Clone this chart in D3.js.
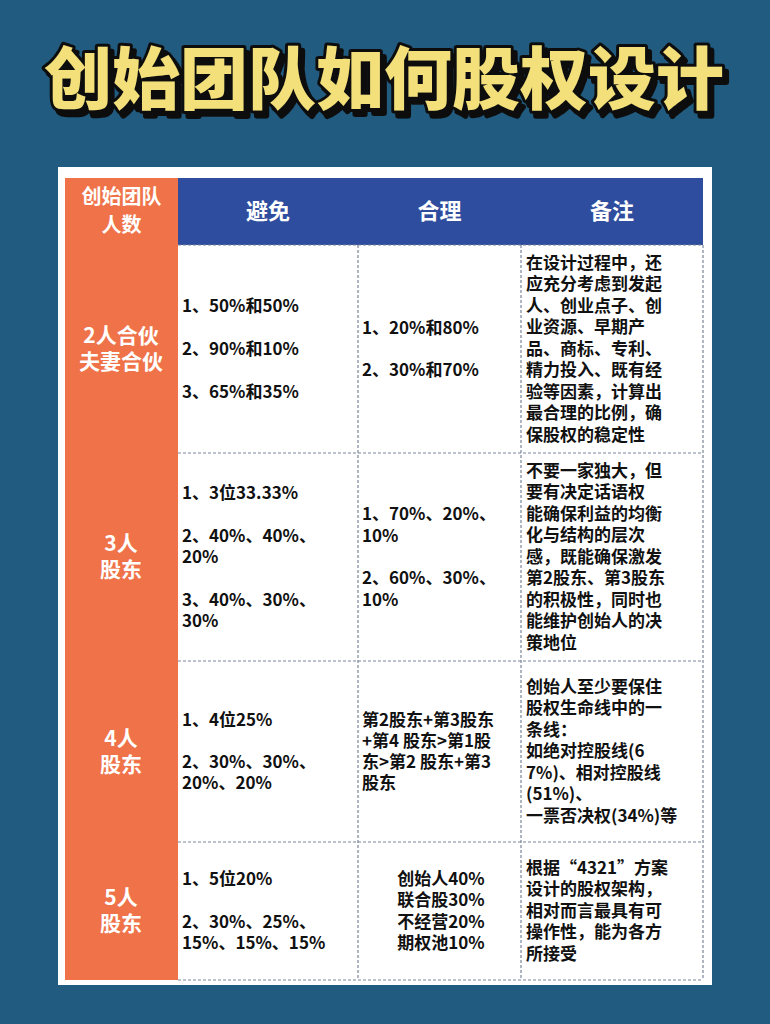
<!DOCTYPE html>
<html><head><meta charset="utf-8">
<script src="https://cdn.jsdelivr.net/npm/d3@7"></script>
<style>body{margin:0;background:#205a7e}svg{display:block}</style></head>
<body><svg id="c" width="770" height="1024"></svg>
<script>
const title = "创始团队如何股权设计";
const headers = ["创始团队\n人数", "避免", "合理", "备注"];
const groups = ["2人合伙\n夫妻合伙", "3人\n股东", "4人\n股东", "5人\n股东"];
const avoid = [
 "1、50%和50%\n\n2、90%和10%\n\n3、65%和35%",
 "1、3位33.33%\n\n2、40%、40%、\n20%\n\n3、40%、30%、\n30%",
 "1、4位25%\n\n2、30%、30%、\n20%、20%",
 "1、5位20%\n\n2、30%、25%、\n15%、15%、15%"];
const reasonable = [
 "1、20%和80%\n\n2、30%和70%",
 "1、70%、20%、\n10%\n\n2、60%、30%、\n10%",
 "第2股东+第3股东\n+第4 股东>第1股\n东>第2 股东+第3\n股东",
 "创始人40%\n联合股30%\n不经营20%\n期权池10%"];
const notes = [
 "在设计过程中，还\n应充分考虑到发起\n人、创业点子、创\n业资源、早期产\n品、商标、专利、\n精力投入、既有经\n验等因素，计算出\n最合理的比例，确\n保股权的稳定性",
 "不要一家独大，但\n要有决定话语权\n能确保利益的均衡\n化与结构的层次\n感，既能确保激发\n第2股东、第3股东\n的积极性，同时也\n能维护创始人的决\n策地位",
 "创始人至少要保住\n股权生命线中的一\n条线：\n如绝对控股线(6\n7%)、相对控股线\n(51%)、\n一票否决权(34%)等",
 "根据“4321”方案\n设计的股权架构，\n相对而言最具有可\n操作性，能为各方\n所接受"];

const svg = d3.select("#c");
const F = "'Noto Sans CJK SC','Noto Sans',sans-serif";
const defs = svg.append("defs");
defs.append("filter").attr("id","sh").attr("x","-10%").attr("y","-30%").attr("width","120%").attr("height","160%")
  .append("feDropShadow").attr("dx",4).attr("dy",5).attr("stdDeviation",0).attr("flood-color","#111").attr("flood-opacity",1);
svg.append("rect").attr("width",770).attr("height",1024).attr("fill","#215b7f");
svg.append("text").attr("font-family",F).attr("font-weight",900).attr("font-size",68).attr("text-anchor","middle")
  .attr("x",384).attr("y",104).text(title).attr("fill","#f3e07a").attr("stroke","#111").attr("stroke-width",6)
  .attr("stroke-linejoin","round").attr("paint-order","stroke").attr("filter","url(#sh)");

svg.append("rect").attr("x",58).attr("y",167).attr("width",654).attr("height",818).attr("fill","#fff");

const colX = d3.scaleOrdinal().domain([0,1,2,3]).range([65,178,358,521]);
const colW = [113,180,163,182];
const rowY = [178,245,453,661,842,980];

function lines(g, str, x, y, anchor, lh, size, color){
  const ls = str.split("\n");
  const t0 = y - (ls.length-1)*lh/2;
  const t = g.append("text").attr("font-family",F).attr("font-weight",700).attr("font-size",size).attr("fill",color).attr("text-anchor",anchor);
  ls.forEach((l,i)=>t.append("tspan").attr("x",x).attr("y",t0+i*lh).attr("dy","0.35em").text(l));
}
svg.append("rect").attr("x",65).attr("y",178).attr("width",113).attr("height",802).attr("fill","#ef7249");
svg.append("rect").attr("x",178).attr("y",178).attr("width",525).attr("height",67).attr("fill","#2e4d9e");
headers.forEach((h,i)=>lines(svg,h,colX(i)+colW[i]/2,211,"middle",i?0:28,i?22:20,"#fff"));
const gl = svg.append("g").attr("stroke","#7a8699").attr("stroke-dasharray","3,2").attr("stroke-width",1.2);
rowY.slice(1,5).forEach(y=>gl.append("line").attr("x1",178).attr("x2",703).attr("y1",y).attr("y2",y));
gl.append("line").attr("x1",178).attr("x2",703).attr("y1",980).attr("y2",980);
[358,521,703].forEach(x=>gl.append("line").attr("x1",x).attr("x2",x).attr("y1",245).attr("y2",980));
groups.forEach((g,i)=>{
  const cy=(rowY[i+1]+rowY[i+2])/2;
  lines(svg,g,121,cy,"middle",26,21,"#fff");
  lines(svg,avoid[i],182,cy,"start",21.3,17,"#111");
  if(i===3) lines(svg,reasonable[i],441,cy,"middle",21.3,17,"#111");
  else lines(svg,reasonable[i],362,cy,"start",21.3,17,"#111");
  lines(svg,notes[i],526,cy,"start",21.5,17,"#111");
});
</script></body></html>
